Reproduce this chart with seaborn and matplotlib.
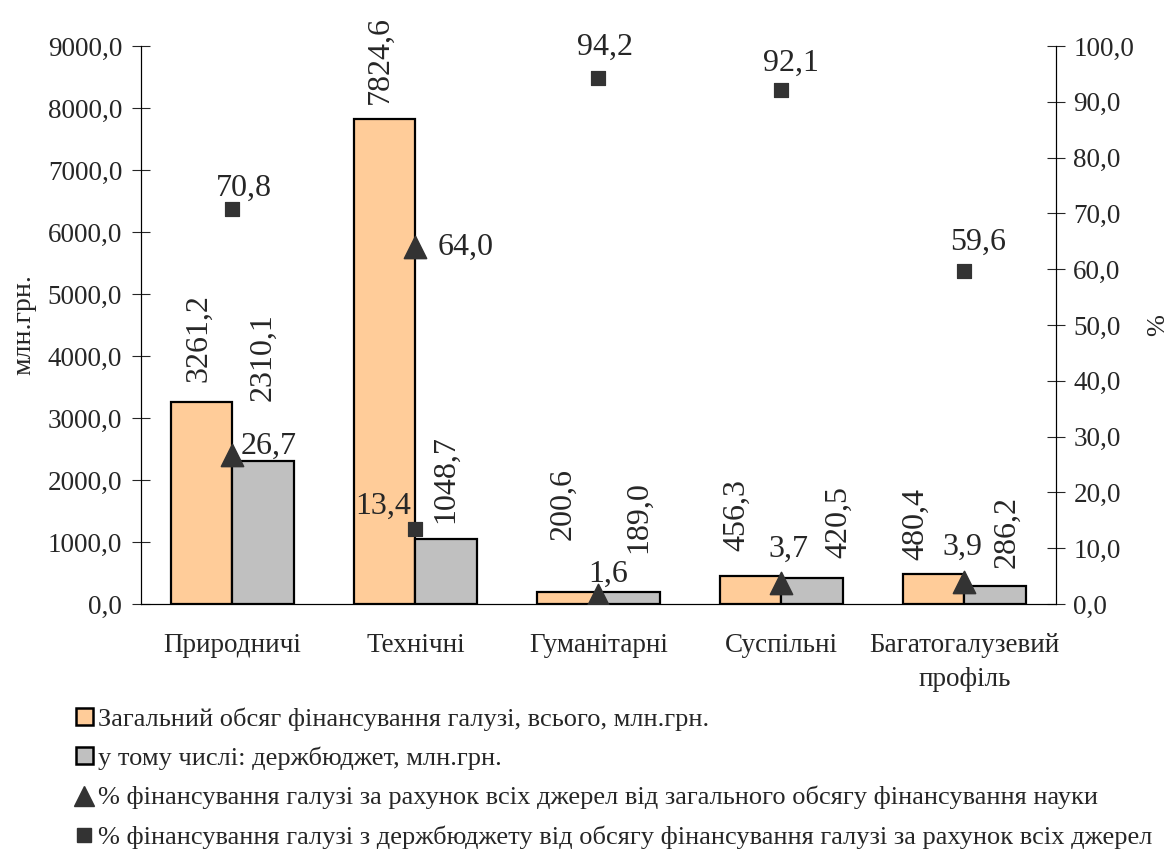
import numpy as np
import pandas as pd
import seaborn as sns
import matplotlib.pyplot as plt
from matplotlib.patches import Patch
from matplotlib.lines import Line2D

# Data
categories = ["Природничі", "Технічні", "Гуманітарні", "Суспільні", "Багатогалузевий\nпрофіль"]
total_funding = [3261.2, 7824.6, 200.6, 456.3, 480.4]      # млн.грн.
budget_funding = [2310.1, 1048.7, 189.0, 420.5, 286.2]     # млн.грн.
share_of_science = [26.7, 64.0, 1.6, 3.7, 3.9]             # %
budget_share = [70.8, 13.4, 94.2, 92.1, 59.6]              # %

series_names = [
    "Загальний обсяг фінансування галузі, всього, млн.грн.",
    "у тому числі: держбюджет, млн.грн.",
    "% фінансування галузі за рахунок всіх джерел від загального обсягу фінансування науки",
    "% фінансування галузі з держбюджету від обсягу фінансування галузі за рахунок всіх джерел",
]

# label offsets (points) - hand placed like in the original
total_offsets = [(-2, 14), (-3.5, 11), (-3.5, 37), (-10, 18), (-13, 10)]
budget_offsets = [(0, 43), (0, 11.5), (7, 28), (19, 14.5), (8.5, 13.5)]
tri_offsets = [(26, 6.5), (36, 0), (7, 15), (5, 24.5), (-1.5, 25)]
sq_offsets = [(8.5, 15), (-23, 16.5), (4.5, 22), (6.5, 19.5), (9.5, 21)]

ORANGE = "#FFCC99"
GREY = "#C0C0C0"
DARK = "#333333"


def fmt(v):
    return f"{v:.1f}".replace(".", ",")


sns.set_style("white")
plt.rcParams["font.family"] = ["Liberation Serif", "DejaVu Serif"]

df = pd.DataFrame({
    "cat": categories * 2,
    "value": total_funding + budget_funding,
    "series": [series_names[0]] * len(categories) + [series_names[1]] * len(categories),
})

fig = plt.figure(figsize=(11.72, 8.5), dpi=100)
ax = fig.add_axes([0.1203, 0.2894, 0.7807, 0.6565])

sns.barplot(data=df, x="cat", y="value", hue="series", order=categories,
            palette=[ORANGE, GREY], width=0.667, gap=0, edgecolor="black",
            linewidth=1.6, saturation=1, legend=False, ax=ax)

for cont, offsets in zip(ax.containers, [total_offsets, budget_offsets]):
    for bar, off in zip(cont, offsets):
        h = bar.get_height()
        ax.annotate(fmt(h), (bar.get_x() + bar.get_width() / 2, h),
                    xytext=off, textcoords="offset points",
                    ha="center", va="bottom", rotation=90, fontsize=23)

ax.set_ylim(0, 9000)
ax.set_yticks(np.arange(0, 9001, 1000))
ax.set_yticklabels([fmt(v) for v in np.arange(0, 9001, 1000)], fontsize=19.5)
ax.set_xlim(-0.5, len(categories) - 0.5)
ax.set_xticks(np.arange(len(categories)))
ax.set_xticklabels(categories, fontsize=19.5, linespacing=1.45)
ax.set_xlabel("")
ax.set_ylabel("млн.грн.", fontsize=20, labelpad=8)
ax.tick_params(axis="x", length=0, pad=21)
ax.set_xticks(np.arange(-0.5, len(categories) + 0.5, 1), minor=True)
ax.tick_params(axis="x", which="minor", direction="inout", length=16, width=0.8)
ax.tick_params(axis="y", direction="inout", length=13, width=0.8, left=True, pad=7)

ax2 = ax.twinx()
pos = np.arange(len(categories))
sns.scatterplot(x=pos, y=share_of_science, marker="^", s=250, color=DARK,
                edgecolor=DARK, ax=ax2, legend=False, zorder=5)
sns.scatterplot(x=pos, y=budget_share, marker="s", s=115, color=DARK,
                edgecolor=DARK, ax=ax2, legend=False, zorder=5)
for x, v, off in zip(pos, share_of_science, tri_offsets):
    ax2.annotate(fmt(v), (x, v), xytext=off, textcoords="offset points",
                 ha="center", va="center", fontsize=23)
for x, v, off in zip(pos, budget_share, sq_offsets):
    ax2.annotate(fmt(v), (x, v), xytext=off, textcoords="offset points",
                 ha="center", va="center", fontsize=23)

ax2.set_ylim(0, 100)
ax2.set_yticks(np.arange(0, 101, 10))
ax2.set_yticklabels([fmt(v) for v in np.arange(0, 101, 10)], fontsize=19.5)
ax2.set_ylabel("%", fontsize=19, labelpad=9)
ax2.tick_params(axis="y", direction="inout", length=13, width=0.8, right=True, pad=6)
ax2.set_xlim(-0.5, len(categories) - 0.5)

for a in (ax, ax2):
    a.spines["top"].set_visible(False)
    for s in ("left", "right", "bottom"):
        a.spines[s].set_linewidth(0.8)
        a.spines[s].set_color("black")
    a.grid(False)

handles = [
    Patch(facecolor=ORANGE, edgecolor="black", linewidth=1.8),
    Patch(facecolor=GREY, edgecolor="black", linewidth=1.8),
    Line2D([], [], marker="^", color=DARK, linestyle="none", markersize=14),
    Line2D([], [], marker="s", color=DARK, linestyle="none", markersize=10),
]
fig.legend(handles, series_names, loc="lower left", bbox_to_anchor=(0.056, -0.011),
           frameon=False, fontsize=19, handlelength=0.62, handleheight=0.6,
           handletextpad=0.2, labelspacing=0.6, borderaxespad=0)

fig.savefig("out.png", dpi=100)
